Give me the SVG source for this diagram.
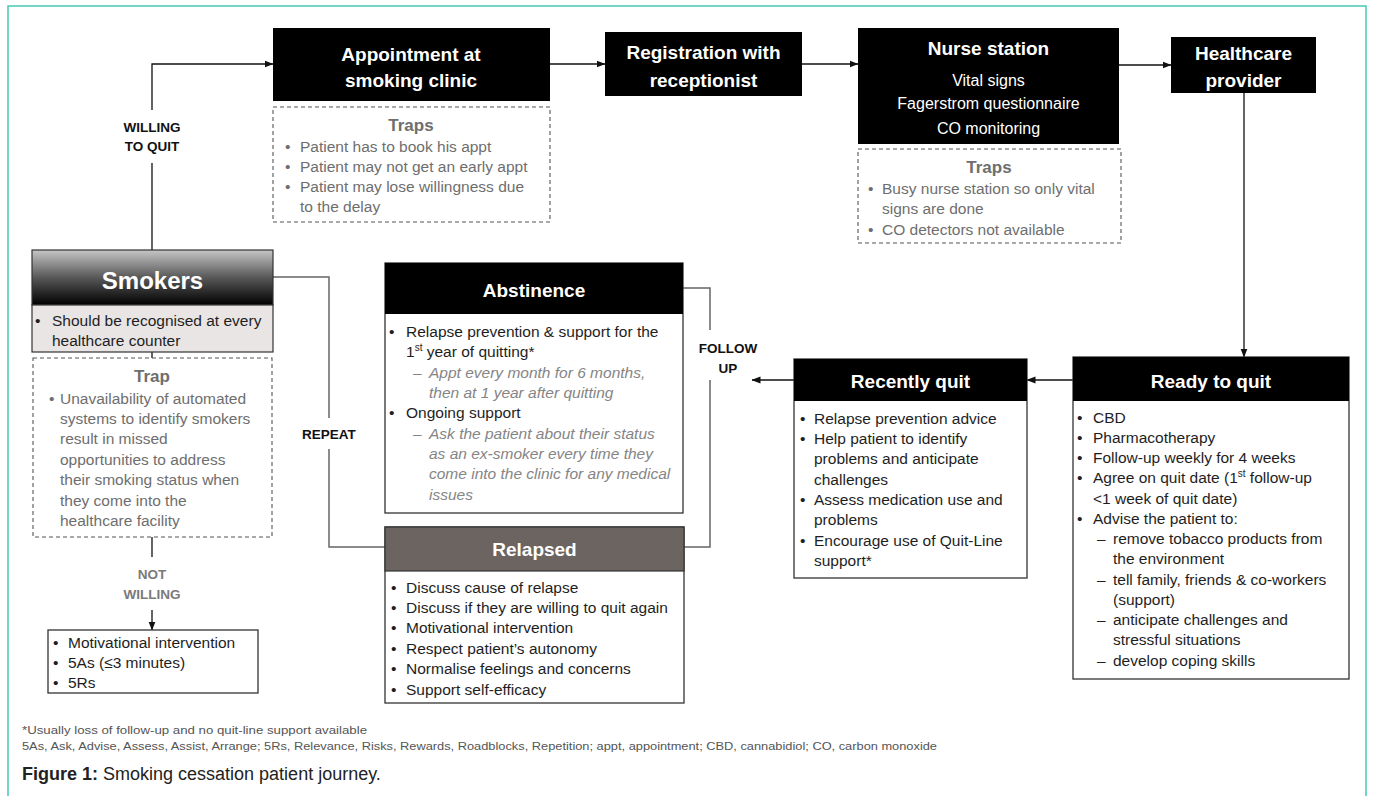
<svg xmlns="http://www.w3.org/2000/svg" width="1375" height="796" viewBox="0 0 1375 796">
<style>
text{font-family:"Liberation Sans",Arial,sans-serif}
.hdr{font-size:19px;font-weight:bold;fill:#fff;text-anchor:middle}
.sub{font-size:16px;fill:#fff;text-anchor:middle}
.b{font-size:15.5px;fill:#1e1e1e}
.t{font-size:15.5px;fill:#6e6e6e}
.th{font-size:17px;font-weight:bold;fill:#6e6e6e;text-anchor:middle}
.i{font-size:15.5px;font-style:italic;fill:#858585}
.lbl{font-size:13.5px;font-weight:bold;fill:#111;text-anchor:middle}
.lblg{font-size:13.5px;font-weight:bold;fill:#7a7a7a;text-anchor:middle}
.blk{fill:#000}
.box{fill:#fff;stroke:#333;stroke-width:1.3}
.dash{fill:#fff;stroke:#555;stroke-width:1.1;stroke-dasharray:4 3}
.c{fill:none;stroke:#111;stroke-width:1.3}
.cg{fill:none;stroke:#666;stroke-width:1.5}
.fn{font-size:11px;fill:#555}
.cap{font-size:18px;fill:#222}
</style>
<defs>
<marker id="arr" markerWidth="9" markerHeight="8" refX="8.5" refY="4" orient="auto" markerUnits="userSpaceOnUse"><path d="M0,0.5 L9,4 L0,7.5z" fill="#111"/></marker>
<linearGradient id="smk" x1="0" y1="0" x2="0" y2="1"><stop offset="0" stop-color="#c6c6c6"/><stop offset="0.5" stop-color="#585858"/><stop offset="1" stop-color="#000"/></linearGradient>
</defs>
<rect x="0" y="0" width="1375" height="796" fill="#fff"/>
<rect x="8" y="6" width="1358" height="810" fill="none" stroke="#46c9b6" stroke-width="1.5"/>

<g id="connectors">
<path class="c" d="M152,250 V163"/>
<path class="c" d="M152,110 V64 H273" marker-end="url(#arr)"/>
<path class="c" d="M550,64 H605" marker-end="url(#arr)"/>
<path class="c" d="M802,64 H858" marker-end="url(#arr)"/>
<path class="c" d="M1119,65 H1171" marker-end="url(#arr)"/>
<path class="c" d="M1244,93 V357" marker-end="url(#arr)"/>
<path class="c" d="M1073,380 H1027" marker-end="url(#arr)"/>
<path class="c" d="M794,380 H752" marker-end="url(#arr)"/>
<path class="cg" d="M683,288 H710 V330"/>
<path class="cg" d="M710,380 V547 H684"/>
<path class="cg" d="M273,277 H329 V418"/>
<path class="cg" d="M329,449 V547 H385"/>
<path class="c" d="M152,352 V358"/>
<path class="c" d="M152,537 V557"/>
<path class="c" d="M152,610 V630" marker-end="url(#arr)"/>
<text class="lbl" x="152" y="132">WILLING</text>
<text class="lbl" x="152" y="151">TO QUIT</text>
<text class="lbl" x="329" y="439">REPEAT</text>
<text class="lbl" x="728" y="353">FOLLOW</text>
<text class="lbl" x="728" y="373">UP</text>
<text class="lblg" x="152" y="579">NOT</text>
<text class="lblg" x="152" y="599">WILLING</text>
</g>

<g id="appointment">
<rect class="blk" x="273" y="28" width="277" height="73"/>
<text class="hdr" x="411" y="61">Appointment at</text>
<text class="hdr" x="411" y="87">smoking clinic</text>
</g>
<g id="traps-appointment">
<rect class="dash" x="273" y="107" width="277" height="115"/>
<text class="th" x="411" y="131">Traps</text>
<text class="t" x="285" y="151.5">•</text><text class="t" x="300" y="151.5">Patient has to book his appt</text>
<text class="t" x="285" y="171.5">•</text><text class="t" x="300" y="171.5">Patient may not get an early appt</text>
<text class="t" x="285" y="191.5">•</text><text class="t" x="300" y="191.5">Patient may lose willingness due</text>
<text class="t" x="300" y="211.5">to the delay</text>
</g>

<g id="registration">
<rect class="blk" x="605" y="32" width="197" height="64"/>
<text class="hdr" x="703.5" y="59">Registration with</text>
<text class="hdr" x="703.5" y="87">receptionist</text>
</g>

<g id="nurse-station">
<rect class="blk" x="858" y="28" width="261" height="116"/>
<text class="hdr" x="988.5" y="55">Nurse station</text>
<text class="sub" x="988.5" y="86">Vital signs</text>
<text class="sub" x="988.5" y="109">Fagerstrom questionnaire</text>
<text class="sub" x="988.5" y="134">CO monitoring</text>
</g>
<g id="traps-nurse">
<rect class="dash" x="858" y="149" width="263" height="94"/>
<text class="th" x="989" y="173">Traps</text>
<text class="t" x="868" y="193.5">•</text><text class="t" x="882" y="193.5">Busy nurse station so only vital</text>
<text class="t" x="882" y="213.5">signs are done</text>
<text class="t" x="868" y="234.5">•</text><text class="t" x="882" y="234.5">CO detectors not available</text>
</g>

<g id="healthcare-provider">
<rect class="blk" x="1171" y="37" width="145" height="56"/>
<text class="hdr" x="1243.5" y="60">Healthcare</text>
<text class="hdr" x="1243.5" y="87">provider</text>
</g>

<g id="smokers">
<rect x="32" y="250" width="241" height="55" fill="url(#smk)" stroke="#333" stroke-width="1.2"/>
<text x="152.5" y="289" style="font-size:24px;font-weight:bold;fill:#fff;text-anchor:middle">Smokers</text>
<rect x="32" y="305" width="241" height="47" fill="#e9e5e5" stroke="#333" stroke-width="1.2"/>
<text class="b" x="35" y="325.5">•</text><text class="b" x="52" y="325.5">Should be recognised at every</text>
<text class="b" x="52" y="345.5">healthcare counter</text>
</g>
<g id="trap-smokers">
<rect class="dash" x="33" y="358" width="239" height="179"/>
<text class="th" x="152" y="382">Trap</text>
<text class="t" x="49" y="403.5">•</text><text class="t" x="60" y="403.5">Unavailability of automated</text>
<text class="t" x="60" y="423.5">systems to identify smokers</text>
<text class="t" x="60" y="444">result in missed</text>
<text class="t" x="60" y="464.5">opportunities  to address</text>
<text class="t" x="60" y="485">their smoking  status when</text>
<text class="t" x="60" y="505.5">they come into the</text>
<text class="t" x="60" y="526">healthcare facility</text>
</g>

<g id="not-willing">
<rect class="box" x="48" y="630" width="210" height="63"/>
<text class="b" x="53" y="647.5">•</text><text class="b" x="68" y="647.5">Motivational intervention</text>
<text class="b" x="53" y="667.5">•</text><text class="b" x="68" y="667.5">5As (≤3 minutes)</text>
<text class="b" x="53" y="687.5">•</text><text class="b" x="68" y="687.5">5Rs</text>
</g>

<g id="abstinence">
<rect class="box" x="385" y="263" width="298" height="250"/>
<rect class="blk" x="385" y="263" width="298" height="51"/>
<text class="hdr" x="534" y="297">Abstinence</text>
<text class="b" x="389" y="336.5">•</text><text class="b" x="406" y="336.5">Relapse prevention &amp; support for the</text>
<text class="b" x="406" y="356.5">1<tspan font-size="10" dy="-6">st</tspan><tspan dy="6"> year of quitting*</tspan></text>
<text class="i" x="413" y="377.5">–</text><text class="i" x="429" y="377.5">Appt every month for 6 months,</text>
<text class="i" x="429" y="397.5">then at 1 year after quitting</text>
<text class="b" x="389" y="417.5">•</text><text class="b" x="406" y="417.5">Ongoing support</text>
<text class="i" x="413" y="438.5">–</text><text class="i" x="429" y="438.5">Ask the patient about their status</text>
<text class="i" x="429" y="458.5">as an ex-smoker every time they</text>
<text class="i" x="429" y="478.5">come into the clinic for any medical</text>
<text class="i" x="429" y="499.5">issues</text>
</g>

<g id="relapsed">
<rect class="box" x="385" y="527" width="299" height="176"/>
<rect x="385" y="527" width="299" height="44" fill="#6b6461" stroke="#333" stroke-width="1.2"/>
<text class="hdr" x="534.5" y="556">Relapsed</text>
<text class="b" x="391" y="592.5">•</text><text class="b" x="406" y="592.5">Discuss cause of relapse</text>
<text class="b" x="391" y="612.5">•</text><text class="b" x="406" y="612.5">Discuss if they are willing to quit again</text>
<text class="b" x="391" y="633">•</text><text class="b" x="406" y="633">Motivational intervention</text>
<text class="b" x="391" y="653.5">•</text><text class="b" x="406" y="653.5">Respect patient’s autonomy</text>
<text class="b" x="391" y="674">•</text><text class="b" x="406" y="674">Normalise feelings and concerns</text>
<text class="b" x="391" y="694.5">•</text><text class="b" x="406" y="694.5">Support  self-efficacy</text>
</g>

<g id="recently-quit">
<rect class="box" x="794" y="359" width="233" height="219"/>
<rect class="blk" x="794" y="359" width="233" height="42"/>
<text class="hdr" x="910.5" y="388">Recently quit</text>
<text class="b" x="800" y="423.5">•</text><text class="b" x="814" y="423.5">Relapse prevention advice</text>
<text class="b" x="800" y="443.5">•</text><text class="b" x="814" y="443.5">Help patient to identify</text>
<text class="b" x="814" y="464">problems and anticipate</text>
<text class="b" x="814" y="484.5">challenges</text>
<text class="b" x="800" y="504.5">•</text><text class="b" x="814" y="504.5">Assess medication use and</text>
<text class="b" x="814" y="525">problems</text>
<text class="b" x="800" y="545.5">•</text><text class="b" x="814" y="545.5">Encourage use of Quit-Line</text>
<text class="b" x="814" y="565.5">support*</text>
</g>

<g id="ready-to-quit">
<rect class="box" x="1073" y="357" width="276" height="322"/>
<rect class="blk" x="1073" y="357" width="276" height="44"/>
<text class="hdr" x="1211" y="388">Ready to quit</text>
<text class="b" x="1077" y="422.5">•</text><text class="b" x="1093" y="422.5">CBD</text>
<text class="b" x="1077" y="442.5">•</text><text class="b" x="1093" y="442.5">Pharmacotherapy</text>
<text class="b" x="1077" y="463">•</text><text class="b" x="1093" y="463">Follow-up weekly for 4 weeks</text>
<text class="b" x="1077" y="483">•</text><text class="b" x="1093" y="483">Agree on quit date (1<tspan font-size="10" dy="-6">st</tspan><tspan dy="6"> follow-up</tspan></text>
<text class="b" x="1093" y="503.5">&lt;1 week of quit date)</text>
<text class="b" x="1077" y="523.5">•</text><text class="b" x="1093" y="523.5">Advise the patient to:</text>
<text class="b" x="1097" y="543.5">–</text><text class="b" x="1113" y="543.5">remove tobacco products from</text>
<text class="b" x="1113" y="564">the environment</text>
<text class="b" x="1097" y="584.5">–</text><text class="b" x="1113" y="584.5">tell family, friends &amp; co-workers</text>
<text class="b" x="1113" y="604.5">(support)</text>
<text class="b" x="1097" y="625">–</text><text class="b" x="1113" y="625">anticipate challenges and</text>
<text class="b" x="1113" y="645">stressful situations</text>
<text class="b" x="1097" y="665.5">–</text><text class="b" x="1113" y="665.5">develop coping skills</text>
</g>

<g id="footnotes">
<text class="fn" x="22" y="734" textLength="345" lengthAdjust="spacingAndGlyphs">*Usually loss of follow-up and no quit-line support available</text>
<text class="fn" x="22" y="750" textLength="915" lengthAdjust="spacingAndGlyphs">5As, Ask, Advise, Assess, Assist, Arrange; 5Rs, Relevance, Risks, Rewards, Roadblocks, Repetition; appt,  appointment; CBD,  cannabidiol; CO, carbon monoxide</text>
<text class="cap" x="22" y="780"><tspan font-weight="bold">Figure 1:</tspan> Smoking cessation patient journey.</text>
</g>
</svg>
